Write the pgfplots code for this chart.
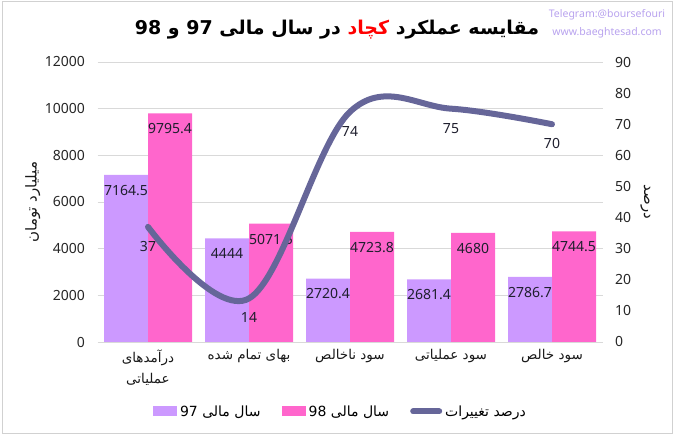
\documentclass[border=0pt]{standalone}
\usepackage{pgfplots}
\pgfplotsset{compat=1.18}
\usepackage{fontspec}
\setmainfont{Noto Sans}
\newfontfamily\fa[Script=Arabic]{DejaVu Sans}
\TeXXeTstate=1
\definecolor{c97}{HTML}{CC99FF}
\definecolor{c98}{HTML}{FF66CC}
\definecolor{cline}{HTML}{666699}
\definecolor{lbl}{HTML}{1F1F2E}
\definecolor{wm}{HTML}{B8A2EE}
\begin{document}
\begin{tikzpicture}
\path[use as bounding box] (0pt,0pt) rectangle (677pt,438pt);
\draw[black!18, line width=0.8pt] (2pt,5pt) rectangle (672pt,437pt);
\begin{axis}[
  at={(97.5pt,96pt)}, anchor=south west,
  scale only axis, width=505pt, height=280pt,
  xmin=0.5, xmax=5.5, ymin=0, ymax=12000,
  ybar=0pt, bar width=44pt,
  xtick={1,2,3,4,5},
  xticklabels={{\beginR درآمدهای\endR\\\beginR عملیاتی\endR},{\beginR بهای تمام شده\endR},{\beginR سود ناخالص\endR},{\beginR سود عملیاتی\endR},{\beginR سود خالص\endR}},
  ytick={0,2000,4000,6000,8000,10000,12000},
  ymajorgrids, grid style={draw=black!15, line width=0.8pt},
  axis line style={draw=none},
  major tick length=0pt,
  scaled y ticks=false,
  /pgf/number format/1000 sep={},
  /pgf/number format/assume math mode=true,
  yticklabel style={font=\fontsize{14}{17}\selectfont, text=black!85, xshift=-9pt},
  xticklabel style={align=center, font=\fa\fontsize{13.5}{21}\selectfont, text=black!90, yshift=-4pt},
  ylabel={\fa\beginR میلیارد تومان\endR},
  every axis y label/.style={at={(axis description cs:-0.128,0.5)}, rotate=90, anchor=center, font=\fontsize{15}{17}\selectfont, text=black!90},
  nodes near coords,
  every node near coord/.append style={anchor=center, yshift=-15.5pt, font=\fontsize{14}{17}\selectfont, text=lbl},
  legend style={at={(axis description cs:0.481,-0.248)}, anchor=center, draw=none, fill=none,
    legend columns=3, font=\fa\fontsize{14}{16}\selectfont,
    /tikz/every odd column/.append style={column sep=1pt},
    /tikz/every even column/.append style={column sep=19pt}},
  legend cell align=left,
]
\addplot[fill=c97, draw=none, legend image code/.code={\fill[c97] (0pt,-5pt) rectangle (24pt,5pt);}]
  coordinates {(1,7164.5) (2,4444) (3,2720.4) (4,2681.4) (5,2786.7)};
\addlegendentry{\beginR سال مالی \beginL97\endL\endR}
\addplot[fill=c98, draw=none, legend image code/.code={\fill[c98] (0pt,-5pt) rectangle (24pt,5pt);}]
  coordinates {(1,9795.4) (2,5071.5) (3,4723.8) (4,4680) (5,4744.5)};
\addlegendentry{\beginR سال مالی \beginL98\endL\endR}
\addlegendimage{legend image code/.code={\draw[cline, line width=6pt, line cap=round] (3pt,0pt) -- (29pt,0pt);}}
\addlegendentry{\beginR درصد تغییرات\endR}
\end{axis}
\begin{axis}[
  at={(97.5pt,96pt)}, anchor=south west,
  scale only axis, width=505pt, height=280pt,
  xmin=0.5, xmax=5.5, ymin=0, ymax=90,
  ytick={0,10,20,30,40,50,60,70,80,90},
  axis x line=none, axis y line*=right,
  axis line style={draw=none},
  major tick length=0pt,
  /pgf/number format/assume math mode=true,
  yticklabel style={font=\fontsize{14}{17}\selectfont, text=black!85, xshift=9pt},
  ylabel={\fa\beginR درصد\endR},
  every axis y label/.style={at={(axis description cs:1.085,0.5)}, rotate=-90, anchor=center, font=\fontsize{15}{17}\selectfont, text=black!90},
]
\addplot[cline, line width=6pt, smooth, tension=0.6, line cap=round, mark=none,
  nodes near coords,
  every node near coord/.append style={anchor=center, yshift=-19.5pt, font=\fontsize{14}{17}\selectfont, text=lbl}]
  coordinates {(1,37) (2,14) (3,74) (4,75) (5,70)};
\end{axis}
\node[anchor=center, font=\fa\bfseries\fontsize{19}{22}\selectfont] at (337pt,408pt)
  {\beginR در سال مالی \beginL97\endL{} و \beginL98\endL\endR\ \textcolor{red}{\beginR کچاد\endR}\ \beginR مقایسه عملکرد\endR};
\node[anchor=center, font=\fontsize{10.5}{12}\selectfont, text=wm] at (607pt,423pt) {Telegram:@boursefouri};
\node[anchor=center, font=\fontsize{10.5}{12}\selectfont, text=wm] at (607pt,405pt) {www.baeghtesad.com};
\end{tikzpicture}
\end{document}
